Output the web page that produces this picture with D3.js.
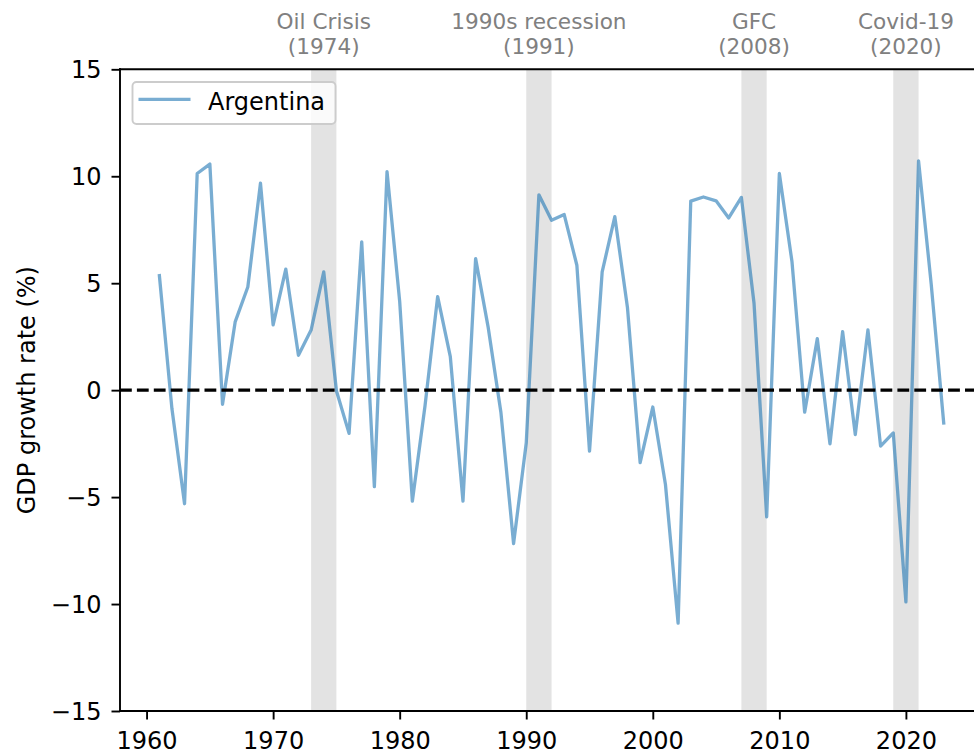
<!DOCTYPE html>
<html lang="en">
<head>
  <meta charset="utf-8">
  <title>Argentina GDP growth</title>
  <style>
    body { margin: 0; background: #fff; }
    svg { display: block; font-family: 'DejaVu Sans', sans-serif; }
  </style>
  <script src="https://cdn.jsdelivr.net/npm/d3@7/dist/d3.min.js"></script>
</head>
<body>
  <svg id="chart" width="974" height="753"></svg>

  <script>
    // Argentina, annual GDP growth (%)
    var years = [1961, 1962, 1963, 1964, 1965, 1966, 1967, 1968, 1969, 1970,
      1971, 1972, 1973, 1974, 1975, 1976, 1977, 1978, 1979, 1980,
      1981, 1982, 1983, 1984, 1985, 1986, 1987, 1988, 1989, 1990,
      1991, 1992, 1993, 1994, 1995, 1996, 1997, 1998, 1999, 2000,
      2001, 2002, 2003, 2004, 2005, 2006, 2007, 2008, 2009, 2010,
      2011, 2012, 2013, 2014, 2015, 2016, 2017, 2018, 2019, 2020,
      2021, 2022, 2023];
    var growth = [5.43, -0.85, -5.31, 10.13, 10.57, -0.66, 3.19, 4.82, 9.68, 3.05,
      5.66, 1.63, 2.81, 5.53, -0.03, -2.02, 6.93, -4.51, 10.22, 4.15,
      -5.19, -0.74, 4.37, 1.57, -5.19, 6.15, 2.91, -1.05, -7.17, -2.47,
      9.13, 7.94, 8.21, 5.84, -2.85, 5.53, 8.11, 3.85, -3.39, -0.79,
      -4.41, -10.89, 8.84, 9.03, 8.85, 8.05, 9.01, 4.06, -5.92, 10.13,
      6.00, -1.03, 2.41, -2.51, 2.73, -2.08, 2.82, -2.62, -2.00, -9.90,
      10.72, 4.96, -1.61];

    // crisis bands
    var eventNames = ["Oil Crisis", "1990s recession", "GFC", "Covid-19"];
    var eventYears = [1974, 1991, 2008, 2020];
    var eventStarts = [1973, 1990, 2007, 2019];
    var eventEnds = [1975, 1992, 2009, 2021];

    var xTicks = [1960, 1970, 1980, 1990, 2000, 2010, 2020];
    var yTicks = [-15, -10, -5, 0, 5, 10, 15];

    var svg = d3.select("#chart");
    var pl = 120, pt = 69.3, pb = 711, pr = 983.1;

    var x = d3.scaleLinear().domain([1957.9, 2026.1]).range([pl, pr]);
    var y = d3.scaleLinear().domain([-15, 15]).range([pb, pt]);

    // shaded bands
    svg.append("g").selectAll("rect")
      .data(eventNames)
      .enter().append("rect")
      .attr("x", function (d, i) { return x(eventStarts[i]); })
      .attr("width", function (d, i) { return x(eventEnds[i]) - x(eventStarts[i]); })
      .attr("y", pt)
      .attr("height", pb - pt)
      .attr("fill", "gray")
      .attr("fill-opacity", 0.22);

    // band labels above the axes
    var lab = svg.append("g").selectAll("text")
      .data(eventNames)
      .enter().append("text")
      .attr("text-anchor", "middle")
      .attr("fill", "gray")
      .style("font-size", "21.6px");
    lab.append("tspan")
      .attr("x", function (d, i) { return x(eventYears[i]); })
      .attr("y", pt - 40)
      .text(function (d) { return d; });
    lab.append("tspan")
      .attr("x", function (d, i) { return x(eventYears[i]); })
      .attr("y", pt - 15)
      .text(function (d, i) { return "(" + eventYears[i] + ")"; });

    // growth line
    var line = d3.line()
      .x(function (d) { return x(d[0]); })
      .y(function (d) { return y(d[1]); });

    svg.append("path")
      .datum(d3.zip(years, growth))
      .attr("d", line)
      .attr("fill", "none")
      .attr("stroke", "#1f77b4")
      .attr("stroke-opacity", 0.6)
      .attr("stroke-width", 3.3)
      .attr("stroke-linejoin", "round");

    // zero line
    svg.append("line")
      .attr("x1", pl).attr("x2", pr)
      .attr("y1", y(0)).attr("y2", y(0))
      .attr("stroke", "black")
      .attr("stroke-width", 3.2)
      .attr("stroke-dasharray", "11.8,5.1");

    // axes
    var fmt = function (d) { return d < 0 ? "\u2212" + Math.abs(d) : String(d); };

    var gx = svg.append("g")
      .attr("transform", "translate(0," + pb + ")")
      .call(d3.axisBottom(x).tickValues(xTicks).tickFormat(d3.format("d")).tickSize(8.5).tickPadding(10));
    var gy = svg.append("g")
      .attr("transform", "translate(" + pl + ",0)")
      .call(d3.axisLeft(y).tickValues(yTicks).tickFormat(fmt).tickSize(8.5).tickPadding(10));

    [gx, gy].forEach(function (g) {
      g.select(".domain").remove();
      g.selectAll(".tick line").attr("stroke", "black").attr("stroke-width", 1.9);
      g.selectAll(".tick text").attr("fill", "black").style("font-size", "24px")
        .style("font-family", "'DejaVu Sans', sans-serif");
    });
    gx.selectAll(".tick text").attr("dy", null).attr("y", 37.5);
    gy.selectAll(".tick text").attr("dy", "0.36em");

    // spines
    var spine = svg.append("g").attr("stroke", "black").attr("stroke-width", 1.9)
      .attr("stroke-linecap", "square");
    spine.append("line").attr("x1", pl).attr("x2", pl).attr("y1", pt).attr("y2", pb);
    spine.append("line").attr("x1", pl).attr("x2", pr).attr("y1", pb).attr("y2", pb);
    spine.append("line").attr("x1", pl).attr("x2", pr).attr("y1", pt).attr("y2", pt);
    spine.append("line").attr("x1", pr).attr("x2", pr).attr("y1", pt).attr("y2", pb);

    svg.append("text")
      .attr("transform", "translate(35," + ((pt + pb) / 2) + ") rotate(-90)")
      .attr("text-anchor", "middle")
      .style("font-size", "24px")
      .text("GDP growth rate (%)");

    // legend
    var lg = svg.append("g");
    lg.append("rect")
      .attr("x", 132.5).attr("y", 82)
      .attr("width", 203).attr("height", 42)
      .attr("rx", 4)
      .attr("fill", "white").attr("fill-opacity", 0.8)
      .attr("stroke", "#cccccc").attr("stroke-width", 1.9);
    lg.append("line")
      .attr("x1", 138.5).attr("x2", 190.5)
      .attr("y1", 99.3).attr("y2", 99.3)
      .attr("stroke", "#1f77b4").attr("stroke-opacity", 0.6)
      .attr("stroke-width", 3.3);
    lg.append("text")
      .attr("x", 208).attr("y", 110)
      .style("font-size", "24px")
      .text("Argentina");
  </script>
</body>
</html>
